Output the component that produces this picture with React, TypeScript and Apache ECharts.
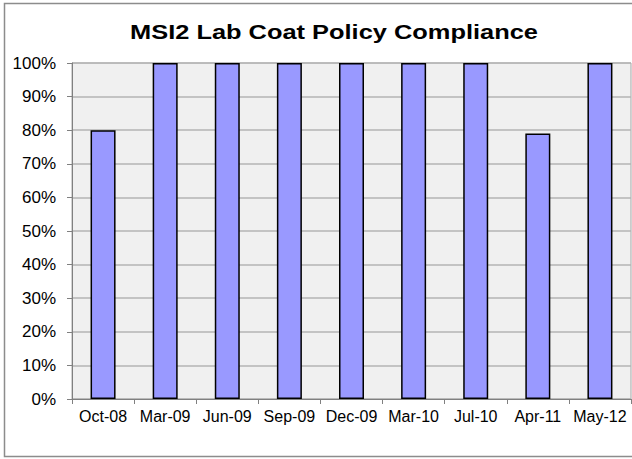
import React, { useEffect, useRef } from "react";
import * as echarts from "echarts";

const categories = ["Oct-08", "Mar-09", "Jun-09", "Sep-09", "Dec-09", "Mar-10", "Jul-10", "Apr-11", "May-12"];
const compliance = [80, 100, 100, 100, 100, 100, 100, 79, 100];
const titleText = "MSI2 Lab Coat Policy Compliance";

export default function App() {
  const ref = useRef<HTMLDivElement>(null);
  useEffect(() => {
    if (!ref.current) return;
    const chart = echarts.init(ref.current, null, { renderer: "svg" });
    chart.setOption({
      animation: false,
      backgroundColor: "#ffffff",
      graphic: [
        {
          type: "rect",
          shape: { x: 4.5, y: 3.5, width: 700, height: 453, r: 0 },
          style: { fill: "none", stroke: "#8c8c8c", lineWidth: 1.5 },
          silent: true,
          z: -1,
        },
        {
          type: "text",
          x: 334,
          y: 32,
          scaleX: 1.27,
          style: {
            text: titleText,
            x: 0,
            y: 0,
            align: "center",
            verticalAlign: "middle",
            font: "bold 20px 'Liberation Sans', Arial, sans-serif",
            fill: "#000000",
          },
        },
      ],
      grid: {
        left: 72,
        right: 1,
        top: 63,
        bottom: 60,
        show: true,
        backgroundColor: "#f0f0f0",
        borderColor: "#a6a6a6",
        borderWidth: 1,
        containLabel: false,
      },
      xAxis: {
        type: "category",
        data: categories,
        boundaryGap: true,
        axisLine: { show: true, lineStyle: { color: "#808080", width: 1 } },
        axisTick: { show: true, alignWithLabel: false, length: 5, lineStyle: { color: "#808080" } },
        axisLabel: {
          interval: 0,
          margin: 9,
          color: "#000000",
          fontSize: 16,
          fontFamily: "'Liberation Sans', Arial, sans-serif",
        },
        splitLine: { show: false },
      },
      yAxis: {
        type: "value",
        min: 0,
        max: 100,
        interval: 10,
        axisLine: { show: true, lineStyle: { color: "#808080", width: 1 } },
        axisTick: { show: true, length: 5, lineStyle: { color: "#808080" } },
        axisLabel: {
          formatter: "{value}%",
          margin: 16,
          color: "#000000",
          fontSize: 17,
          fontFamily: "'Liberation Sans', Arial, sans-serif",
        },
        splitLine: { show: true, lineStyle: { color: "#b4b4b4", width: 1.5 } },
      },
      series: [
        {
          type: "bar",
          data: compliance,
          barWidth: 25,
          itemStyle: { color: "#9999ff", borderColor: "#000000", borderWidth: 1.5 },
        },
      ],
    });
    return () => chart.dispose();
  }, []);
  return <div ref={ref} style={{ width: 632, height: 459, position: "absolute", left: 0, top: 0 }} />;
}
